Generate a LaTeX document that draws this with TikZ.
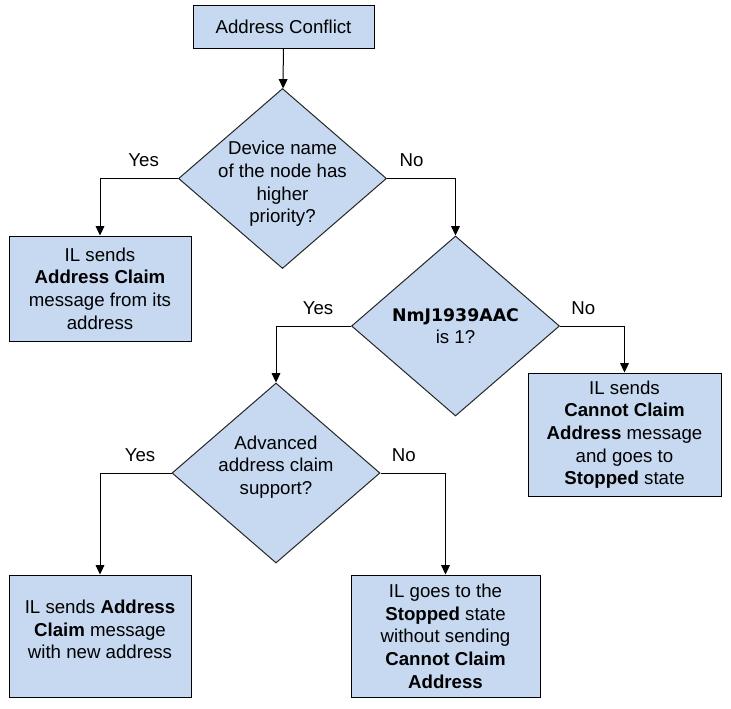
\documentclass[tikz,border=0pt]{standalone}
\usepackage{fontspec}
\setmainfont{Liberation Sans}
\newfontfamily\codefont{DejaVu Sans}
\usetikzlibrary{shapes.geometric,arrows.meta}
\definecolor{boxblue}{HTML}{C6D9F1}
\begin{document}
\begin{tikzpicture}[x=0.75pt,y=-0.75pt,
  font=\fontsize{14}{17}\selectfont,
  box/.style={draw=black,line width=0.75pt,fill=boxblue,align=center,inner sep=2pt},
  decision/.style={diamond,draw=black!85,line width=0.75pt,fill=boxblue,inner sep=0pt,
    minimum width=156pt,minimum height=135pt},
  arrow/.style={line width=0.75pt,-{Triangle[length=7pt,width=6.5pt]}},
  yes/.style={anchor=base,yshift=9pt,pos=.22},
  no/.style={anchor=base,yshift=9pt,pos=.18}]
\useasboundingbox (0,0) rectangle (731,708);
\node[box,minimum width=135.75pt,minimum height=32.25pt] (start) at (283.5,26.5) {Address Conflict};
\node[decision,label={[align=center,yshift=-4pt]center:Device name\\of the node has\\higher\\priority?}] (d1) at (282.5,178.5) {};
\node[box,minimum width=136.5pt,minimum height=78.75pt] (claimold) at (100,288.5)
  {IL sends\\\textbf{Address Claim}\\message from its\\address};
\node[decision,label={[align=center]center:{\codefont\bfseries\fontsize{13}{17}\selectfont NmJ1939AAC}\\is 1?}] (d2) at (455.5,326) {};
\node[box,minimum width=144.75pt,minimum height=92.25pt] (cannot) at (624.5,434.5)
  {IL sends\\\textbf{Cannot Claim}\\\textbf{Address} message\\and goes to\\\textbf{Stopped} state};
\node[decision,label={[align=center,yshift=4.5pt]center:Advanced\\address claim\\support?}] (d3) at (276,473) {};
\node[box,minimum width=136.5pt,minimum height=91.5pt,text depth=10pt] (claimnew) at (100,636)
  {IL sends \textbf{Address}\\\textbf{Claim} message\\with new address};
\node[box,minimum width=141.75pt,minimum height=91.5pt] (stopped) at (445.5,636)
  {IL goes to the\\\textbf{Stopped} state\\without sending\\\textbf{Cannot Claim}\\\textbf{Address}};
\draw[arrow] (start) -- (d1);
\draw[arrow] (d1.west) -| node[yes] {Yes} (claimold);
\draw[arrow] (d1.east) -| node[no] {No} (d2);
\draw[arrow] (d2.west) -| node[yes] {Yes} (d3);
\draw[arrow] (d2.east) -| node[no] {No} (cannot);
\draw[arrow] (d3.west) -| node[yes] {Yes} (claimnew);
\draw[arrow] (d3.east) -| node[no] {No} (stopped);
\end{tikzpicture}
\end{document}
